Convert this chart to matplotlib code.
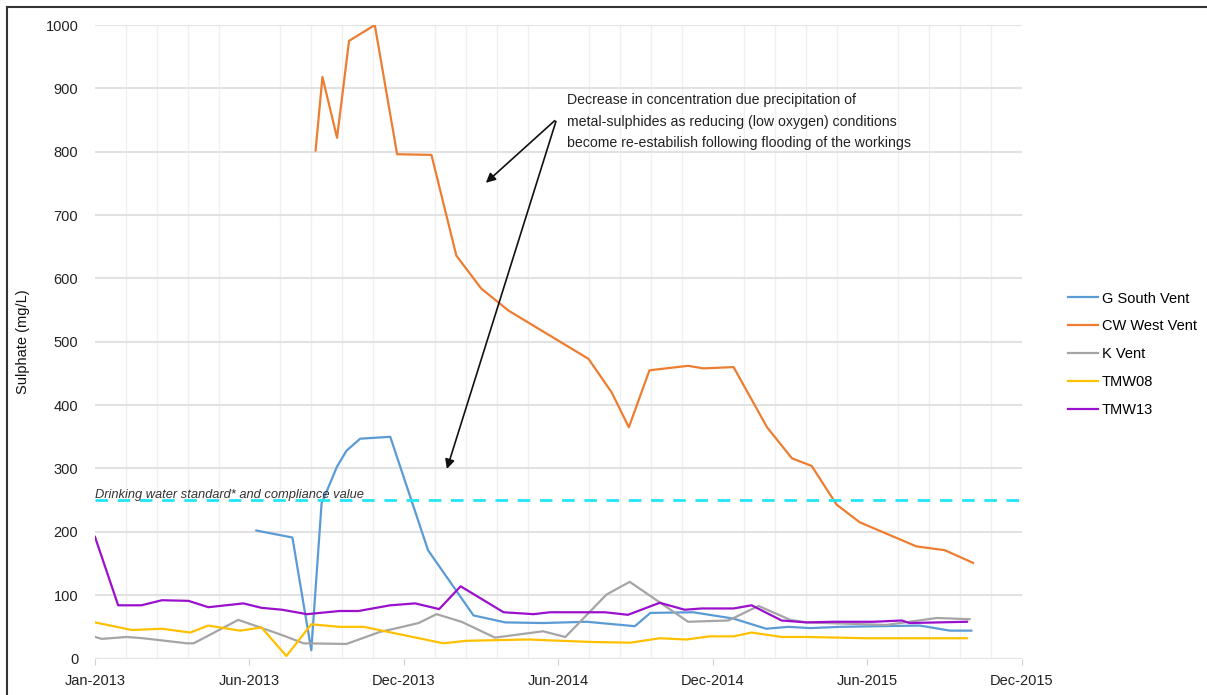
import numpy as np
import matplotlib.pyplot as plt
from matplotlib.lines import Line2D

plt.rcParams['font.family'] = ['Liberation Sans', 'DejaVu Sans']

# x values are days after 1 Jan 2013
tick_labels = ["Jan-2013", "Jun-2013", "Dec-2013", "Jun-2014", "Dec-2014", "Jun-2015", "Dec-2015"]

g_south_days = [188, 230, 252, 264, 274, 282, 293, 309, 344, 388, 441, 478, 522, 573, 629, 647,
                697, 744, 782, 808, 833, 868, 961, 996, 1021]
g_south = [202, 191, 13, 245, 277, 303, 328, 347, 350, 171, 68, 57, 56, 58, 51, 72,
           73, 63, 47, 50, 48, 50, 52, 44, 44]

cw_west_days = [257, 265, 282, 296, 326, 352, 392, 421, 450, 482, 575, 602, 622, 646, 691, 709,
                744, 783, 812, 835, 864, 891, 957, 990, 1023]
cw_west = [802, 918, 822, 975, 1000, 796, 795, 636, 584, 549, 473, 420, 365, 455, 462, 458,
           460, 365, 316, 304, 243, 215, 177, 171, 151]

k_vent_days = [0, 8, 37, 56, 107, 115, 167, 218, 243, 293, 332, 355, 377, 398, 427, 466, 522, 548,
               596, 623, 691, 738, 773, 810, 829, 922, 938, 981, 1019]
k_vent = [34, 31, 34, 32, 24, 24, 61, 37, 24, 23, 42, 49, 56, 70, 58, 33, 43, 34,
          101, 121, 58, 60, 83, 61, 57, 53, 56, 64, 62]

tmw08_days = [0, 43, 78, 111, 132, 169, 194, 223, 252, 285, 313, 406, 433, 468, 505, 542, 581,
              624, 658, 689, 716, 744, 765, 800, 829, 899, 1016]
tmw08 = [57, 45, 47, 41, 52, 44, 49, 4, 54, 50, 50, 24, 28, 29, 30, 28, 26,
         25, 32, 30, 35, 35, 41, 34, 34, 32, 32]

tmw13_days = [0, 27, 54, 78, 109, 132, 173, 194, 218, 247, 285, 307, 344, 373, 401, 426, 476,
              511, 530, 594, 621, 658, 687, 707, 744, 765, 800, 829, 860, 907, 940, 949, 1016]
tmw13 = [192, 84, 84, 92, 91, 81, 87, 80, 77, 70, 75, 75, 84, 87, 78, 114, 73,
         70, 73, 73, 69, 88, 77, 79, 79, 84, 60, 57, 58, 58, 60, 56, 58]

standard = 250

fig = plt.figure(figsize=(12.07, 6.95), dpi=100)
ax = fig.add_axes([0.0787, 0.0525, 0.768, 0.9115])

ax.plot(g_south_days, g_south, color="#5B9BD5", lw=1.6, label="G South Vent")
ax.plot(cw_west_days, cw_west, color="#ED7D31", lw=1.6, label="CW West Vent")
ax.plot(k_vent_days, k_vent, color="#A5A5A5", lw=1.6, label="K Vent")
ax.plot(tmw08_days, tmw08, color="#FFC000", lw=1.6, label="TMW08")
ax.plot(tmw13_days, tmw13, color="#9A10CC", lw=1.6, label="TMW13")

ax.axhline(standard, color="#22E5F5", lw=2, ls=(0, (4.5, 3.5)))
ax.text(0, standard + 8, "Drinking water standard* and compliance value", fontsize=9.3,
        style="italic", color="#333333", va="center", ha="left")

ax.set_xlim(0, 1080)
ax.set_ylim(0, 1000)
ax.set_xticks(np.arange(0, 1081, 180))
ax.set_xticklabels(tick_labels)
ax.set_xticks(np.arange(0, 1081, 36), minor=True)
ax.set_yticks(np.arange(0, 1001, 100))
ax.grid(axis="y", color="#e2e2e2", lw=1.5)
ax.grid(axis="x", which="minor", color="#f0f0f0", lw=1)
ax.set_axisbelow(True)
for s in ax.spines.values():
    s.set_visible(False)
ax.tick_params(axis="both", which="both", length=0, labelsize=10.5, labelcolor="#222222")
ax.tick_params(axis="x", which="major", length=4, color="#d0d0d0", pad=7)
ax.tick_params(axis="y", pad=12)
ax.set_ylabel("Sulphate (mg/L)", fontsize=10.5, color="#111111")
ax.yaxis.set_label_coords(-0.070, 0.5)

# annotation with two arrows
note = ("Decrease in concentration due precipitation of\n"
        "metal-sulphides as reducing (low oxygen) conditions\n"
        "become re-estabilish following flooding of the workings")
ax.text(550, 893, note, fontsize=10.2, color="#222222", va="top", ha="left", linespacing=1.7)
for head in [(453, 748), (409, 295)]:
    ax.annotate("", xy=head, xytext=(538, 852),
                arrowprops=dict(arrowstyle="-|>", color="#111111", lw=1.2, mutation_scale=14))

ax.legend(loc="upper left", bbox_to_anchor=(1.035, 0.60), frameon=False, fontsize=10.5,
          handlelength=2.1, handletextpad=0.25, labelspacing=0.95)

# frame lines on the left and top edges
fig.add_artist(Line2D([7 / 1207, 7 / 1207], [0, 1 - 7 / 695], color="#333333", lw=1.5))
fig.add_artist(Line2D([7 / 1207, 1], [1 - 7 / 695, 1 - 7 / 695], color="#333333", lw=1.5))

fig.savefig("out.png", dpi=100)
